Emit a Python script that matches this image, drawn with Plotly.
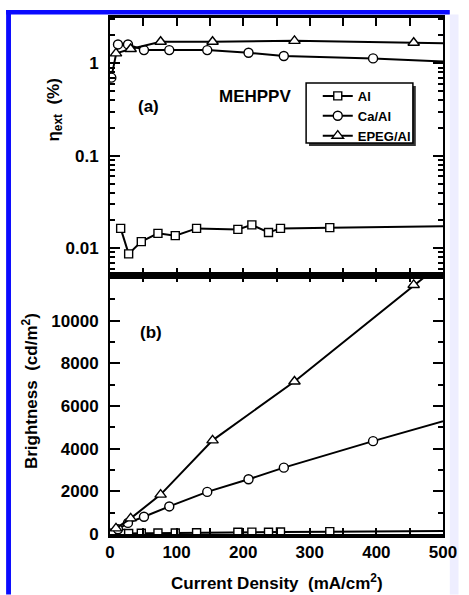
import plotly.graph_objects as go
from plotly.subplots import make_subplots

# ---- data ----
al_j = [16, 28, 47, 72, 98, 130, 192, 213, 238, 256, 330, 540]
al_eta = [0.0164, 0.0087, 0.0118, 0.0145, 0.0137, 0.0164, 0.0160, 0.0179, 0.0148, 0.0164, 0.0167, 0.0175]
al_lum = [20, 25, 35, 45, 50, 60, 80, 90, 85, 95, 110, 150]

ca_j = [2, 12, 27, 51, 89, 146, 208, 261, 395, 530]
ca_eta = [0.70, 1.60, 1.60, 1.39, 1.39, 1.39, 1.30, 1.20, 1.13, 1.02]
ca_lum = [20, 220, 520, 807, 1293, 1974, 2566, 3112, 4354, 5554]

ep_j = [9, 31, 76, 154, 277, 456, 530]
ep_eta = [1.28, 1.43, 1.71, 1.71, 1.75, 1.67, 1.64]
ep_lum = [266, 733, 1849, 4391, 7154, 11681, 13500]

series = [
    ("Al", al_j, al_eta, al_lum, "square", 8),
    ("Ca/Al", ca_j, ca_eta, ca_lum, "circle", 9),
    ("EPEG/Al", ep_j, ep_eta, ep_lum, "triangle-up", 10),
]

x_ticks = [0, 100, 200, 300, 400, 500]
eta_ticks = [0.01, 0.1, 1]
eta_ticktext = ["0.01", "0.1", "1"]
lum_ticks = [0, 2000, 4000, 6000, 8000, 10000]
lum_ticktext = ["0", "2000", "4000", "6000", "8000", "10000"]

FONT = "Liberation Sans, Arial, sans-serif"

fig = make_subplots(rows=2, cols=1, vertical_spacing=0, shared_xaxes=False)

for name, j, eta, lum, sym, sz in series:
    mk = dict(symbol=sym, size=sz, color="white", line=dict(color="black", width=1.4))
    fig.add_trace(go.Scatter(x=j, y=eta, name=name, mode="lines+markers",
                             line=dict(color="black", width=2), marker=mk,
                             showlegend=True), row=1, col=1)
    fig.add_trace(go.Scatter(x=j, y=lum, name=name, mode="lines+markers",
                             line=dict(color="black", width=2), marker=mk,
                             showlegend=False), row=2, col=1)

tf = dict(family=FONT, size=17, color="black", weight="bold")

common_x = dict(range=[0, 500], showgrid=False, zeroline=False, showline=True,
                linecolor="black", mirror="allticks", ticks="inside",
                tickcolor="black", tickwidth=2, tickvals=x_ticks,
                minor=dict(ticks="inside", tickcolor="black", tickwidth=2, dtick=50, tick0=0))
fig.update_xaxes(**common_x, linewidth=2.5, ticklen=8, minor_ticklen=8,
                 showticklabels=False, row=1, col=1)
fig.update_xaxes(**common_x, linewidth=4, ticklen=6, minor_ticklen=6, showticklabels=True,
                 ticktext=[str(v) for v in x_ticks], tickfont=tf, row=2, col=1)

fig.update_yaxes(type="log", range=[-2.30, 0.49], showgrid=False, zeroline=False,
                 showline=True, linecolor="black", linewidth=2, mirror="allticks",
                 ticks="inside", ticklen=10, tickwidth=2, tickcolor="black",
                 tickvals=eta_ticks, ticktext=eta_ticktext, tickfont=tf,
                 ticklabelstandoff=6,
                 minor=dict(ticks="inside", ticklen=5, tickwidth=1.5, tickcolor="black",
                            tickvals=[m * d for d in (0.001, 0.01, 0.1, 1) for m in range(2, 10)]),
                 row=1, col=1)
fig.update_yaxes(range=[0, 12100], showgrid=False, zeroline=False,
                 showline=True, linecolor="black", linewidth=2, mirror="allticks",
                 ticks="inside", ticklen=10, tickwidth=2, tickcolor="black",
                 tickvals=lum_ticks, ticktext=lum_ticktext, tickfont=tf, ticklabelstandoff=6,
                 minor=dict(ticks="inside", ticklen=5, tickwidth=1.5, tickcolor="black",
                            dtick=1000, tick0=0),
                 row=2, col=1)

L, R, T, B = 110, 16, 18, 60.5
W, H = 469, 595
pw, ph = W - L - R, H - T - B


def px(x):
    return (x - L) / pw


def py(y):
    return (H - B - y) / ph


shapes = [
    # legend box with shadow
    dict(type="rect", xref="paper", yref="paper", x0=px(315), x1=px(425), y0=py(146), y1=py(86),
         fillcolor="#333333", line=dict(width=0), layer="above"),
    dict(type="rect", xref="paper", yref="paper", x0=px(312), x1=px(422), y0=py(143), y1=py(83),
         fillcolor="white", line=dict(color="black", width=1.5), layer="above"),
    # frame decoration
    dict(type="rect", xref="paper", yref="paper", x0=px(3), x1=px(8), y0=py(595), y1=py(10),
         fillcolor="#0a0aff", line=dict(width=0), layer="below"),
    dict(type="rect", xref="paper", yref="paper", x0=px(3), x1=px(460), y0=py(14.5), y1=py(10),
         fillcolor="#0a0aff", line=dict(width=0), layer="below"),
    dict(type="rect", xref="paper", yref="paper", x0=px(460), x1=px(469), y0=py(595), y1=py(14.5),
         fillcolor="#eeeeff", line=dict(width=0), layer="below"),
]

ann = [
    dict(text="η<sub>ext</sub>  (%)", x=px(53), y=py(110), textangle=-90),
    dict(text="Brightness  (cd/m<sup>2</sup>)", x=px(27), y=py(391), textangle=-90),
    dict(text="Current Density  (mA/cm<sup>2</sup>)", x=px(282), y=py(583)),
    dict(text="(a)", x=px(150), y=py(107)),
    dict(text="(b)", x=px(152), y=py(333)),
    dict(text="MEHPPV", x=px(259), y=py(97)),
]
annotations = []
for a in ann:
    d = dict(xref="paper", yref="paper", showarrow=False, xanchor="center", yanchor="middle",
             font=dict(family=FONT, size=17, color="black", weight="bold"))
    d.update(a)
    annotations.append(d)

fig.update_layout(
    width=W, height=H,
    margin=dict(l=L, r=R, t=T, b=B, pad=0),
    paper_bgcolor="white", plot_bgcolor="white",
    shapes=shapes, annotations=annotations,
    legend=dict(x=px(324), y=py(81), xanchor="left", yanchor="top",
                bgcolor="rgba(0,0,0,0)", borderwidth=0,
                font=dict(family=FONT, size=13, color="black", weight="bold"),
                tracegroupgap=0, itemwidth=30),
)

fig.write_html("out.html", config={"displayModeBar": False},
               post_script="document.body.style.margin='0';")
